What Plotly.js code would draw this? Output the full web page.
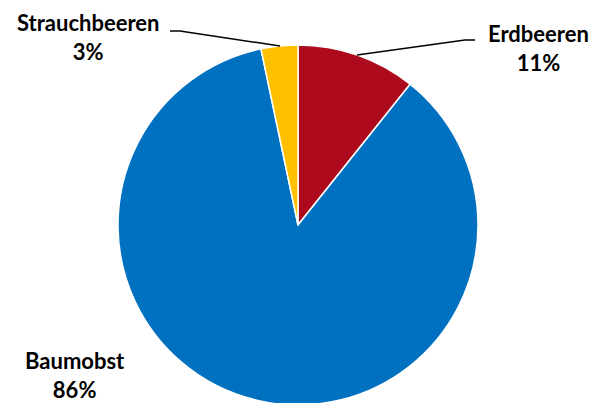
<!DOCTYPE html>
<html><head><meta charset="utf-8">
<script src="https://cdn.plot.ly/plotly-3.0.1.min.js"></script>
<style>html,body{margin:0;padding:0;overflow:hidden;background:#fff;}</style>
</head><body><div id="chart" style="width:595px;height:410px;"></div>
<script>
const categories = ["Erdbeeren", "Baumobst", "Strauchbeeren"];
const values = [10.7, 86.0, 3.3];
const colors = ["#AD0B1D", "#0070C0", "#FFC000"];

const W = 595, H = 410, T = 45, B = 5;
const px = x => x / W;
const py = y => (H - B - y) / (H - T - B);

const total = values.reduce((a, b) => a + b, 0);
const pct = values.map(v => Math.round(v / total * 100) + "%");

const labelPos = [[538, 48], [75, 375], [88, 37]];
const annotations = categories.map((c, i) => ({
  text: "<b>" + c + "<br>" + pct[i] + "</b>",
  x: px(labelPos[i][0]), y: py(labelPos[i][1]), xref: "paper", yref: "paper",
  xanchor: "center", yanchor: "middle",
  showarrow: false, align: "center",
  font: {family: "Lato, Carlito, sans-serif", size: 22, color: "#000"}
}));

const shapes = [
  {type: "path", xref: "paper", yref: "paper",
   path: `M ${px(475)} ${py(40)} L ${px(465)} ${py(40)} L ${px(357)} ${py(55)}`,
   line: {color: "#000", width: 1.5}},
  {type: "path", xref: "paper", yref: "paper",
   path: `M ${px(170)} ${py(31)} L ${px(180)} ${py(31)} L ${px(280)} ${py(46)}`,
   line: {color: "#000", width: 1.5}}
];

Plotly.newPlot("chart", [{
  type: "pie", labels: categories, values: values, sort: false,
  direction: "clockwise", rotation: 0,
  marker: {colors: colors, line: {color: "#fff", width: 1.5}},
  textinfo: "none", hoverinfo: "none",
  domain: {x: [px(118), px(478)], y: [0, 1]}
}], {
  width: W, height: H, showlegend: false,
  margin: {l: 0, r: 0, t: T, b: B, pad: 0},
  paper_bgcolor: "#fff", plot_bgcolor: "#fff",
  annotations: annotations, shapes: shapes
}, {staticPlot: true, displayModeBar: false});
</script></body></html>
